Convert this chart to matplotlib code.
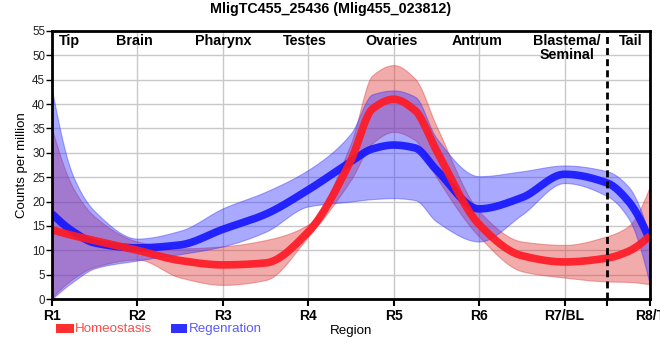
import numpy as np
import matplotlib
matplotlib.use("Agg")
import matplotlib.pyplot as plt
from matplotlib.patches import Rectangle

# ---- data ----
regions = ["R1", "R2", "R3", "R4", "R5", "R6", "R7/BL", "R8/T"]
tissues = ["Tip", "Brain", "Pharynx", "Testes", "Ovaries", "Antrum", "Blastema/\nSeminal", "Tail"]
sample_pos = [1, 1.25, 1.5, 2, 2.5, 3, 3.5, 4, 4.5, 4.75, 5, 5.25, 5.5, 6, 6.5, 7, 7.5, 7.75, 8]

homeo_mean = [14.2, 13.0, 12.0, 10.0, 7.9, 7.0, 7.4, 13.8, 28.5, 39.0, 41.0, 38.7, 30.5, 15.3, 8.9, 7.6, 8.4, 9.8, 13.0]
homeo_upper = [35.0, 22.7, 16.9, 11.8, 10.4, 10.8, 12.1, 15.3, 32.0, 45.9, 48.0, 45.2, 35.5, 18.0, 11.8, 11.1, 12.9, 15.0, 23.2]
homeo_lower = [0.3, 4.2, 6.6, 8.1, 4.4, 2.9, 3.9, 12.8, 24.5, 32.0, 34.3, 32.6, 25.0, 12.8, 5.7, 4.4, 3.6, 3.5, 3.0]

regen_mean = [17.5, 13.8, 11.5, 10.5, 11.1, 14.3, 17.4, 22.4, 28.2, 30.8, 31.6, 31.0, 26.5, 18.5, 20.8, 25.6, 23.8, 20.0, 12.0]
regen_upper = [43.0, 25.1, 18.0, 12.4, 14.0, 18.6, 22.0, 26.5, 34.0, 42.0, 42.8, 41.5, 33.0, 25.2, 26.2, 27.4, 26.2, 23.0, 12.8]
regen_lower = [0.0, 3.6, 6.3, 7.9, 9.2, 10.8, 13.8, 19.0, 20.0, 20.5, 20.7, 20.3, 15.9, 11.8, 17.3, 23.8, 21.1, 16.5, 2.8]


def pchip(x, y, xn):
    x = np.asarray(x, float); y = np.asarray(y, float)
    h = np.diff(x); d = np.diff(y) / h
    n = len(x); m = np.zeros(n)
    for k in range(1, n - 1):
        if d[k - 1] * d[k] <= 0:
            m[k] = 0.0
        else:
            w1 = 2 * h[k] + h[k - 1]; w2 = h[k] + 2 * h[k - 1]
            m[k] = (w1 + w2) / (w1 / d[k - 1] + w2 / d[k])

    def endslope(h0, h1, d0, d1):
        s = ((2 * h0 + h1) * d0 - h0 * d1) / (h0 + h1)
        if np.sign(s) != np.sign(d0):
            s = 0.0
        elif np.sign(d0) != np.sign(d1) and abs(s) > abs(3 * d0):
            s = 3 * d0
        return s
    m[0] = endslope(h[0], h[1], d[0], d[1])
    m[-1] = endslope(h[-1], h[-2], d[-1], d[-2])
    idx = np.clip(np.searchsorted(x, xn) - 1, 0, n - 2)
    t = (xn - x[idx]) / h[idx]
    h00 = 2 * t**3 - 3 * t**2 + 1; h10 = t**3 - 2 * t**2 + t
    h01 = -2 * t**3 + 3 * t**2; h11 = t**3 - t**2
    return h00 * y[idx] + h10 * h[idx] * m[idx] + h01 * y[idx + 1] + h11 * h[idx] * m[idx + 1]


FAM = ["Liberation Sans", "DejaVu Sans"]
plt.rcParams["font.family"] = FAM

fig = plt.figure(figsize=(6.6, 3.6), dpi=100)
ax = fig.add_axes([52 / 660, 61 / 360, 598 / 660, 268 / 360])

xs = np.linspace(1, 8, 700)
series = [
    (homeo_mean, homeo_upper, homeo_lower, "#e03838"),
    (regen_mean, regen_upper, regen_lower, "#3434ff"),
]
for mean, up, lo, fc in series:
    ax.fill_between(xs, pchip(sample_pos, lo, xs), pchip(sample_pos, up, xs),
                    facecolor=fc, alpha=0.42, edgecolor=fc, linewidth=0.8, zorder=2)
ax.plot(xs, pchip(sample_pos, regen_mean, xs), color="#1414ff", lw=5.5, alpha=0.9,
        solid_capstyle="butt", zorder=3)
ax.plot(xs, pchip(sample_pos, homeo_mean, xs), color="#ff1a24", lw=5.5, alpha=0.92,
        solid_capstyle="butt", zorder=4)

ax.axvline(7.5, color="black", lw=2, ls=(0, (2.5, 1.5)), zorder=5)

ax.set_xlim(1, 8)
ax.set_ylim(0, 55)
ax.set_yticks(np.arange(0, 56, 5))
ax.set_xticks(range(1, 9))
ax.set_xticks([7.5], minor=True)
ax.set_xticklabels(regions, fontweight="bold", fontsize=10)
ax.tick_params(axis="x", which="both", length=5, width=1.5, pad=2, color="black")
ax.tick_params(axis="y", length=4, width=1, labelsize=8.3, pad=1, labelcolor="#222222")
ax.grid(True, color="#c8c8c8", lw=1, zorder=0)
ax.set_axisbelow(True)
for s in ax.spines.values():
    s.set_linewidth(2)
    s.set_color("black")
    s.set_zorder(6)

ax.set_ylabel("Counts per million", fontsize=9.5, labelpad=3)

tissue_x = [1.2, 1.97, 3.0, 3.96, 4.98, 5.98, 7.03, 7.77]
for name, tx in zip(tissues, tissue_x):
    ax.text(tx, 54.4, name, ha="center", va="top", linespacing=1.0, zorder=7,
            fontsize=10.3, fontweight="bold")

fig.text(331 / 660, 1 - 9 / 360, "MligTC455_25436 (Mlig455_023812)", ha="center", va="center",
         fontsize=10.3, fontweight="bold")

fig.patches.append(Rectangle((56 / 660, 1 - 333 / 360), 18 / 660, 9 / 360, transform=fig.transFigure,
                             facecolor="#ff3030", edgecolor="none"))
fig.text(75 / 660, 1 - 329 / 360, "Homeostasis", ha="left", va="center",
         color="#ff4a4a", fontsize=9.6)
fig.patches.append(Rectangle((171 / 660, 1 - 333 / 360), 16 / 660, 9 / 360, transform=fig.transFigure,
                             facecolor="#3030ff", edgecolor="none"))
fig.text(189 / 660, 1 - 329 / 360, "Regenration", ha="left", va="center",
         color="#5a5aff", fontsize=9.6)
fig.text(351 / 660, 1 - 331 / 360, "Region", ha="center", va="center",
         color="black", fontsize=9.6)

fig.savefig("out.png", dpi=100)
